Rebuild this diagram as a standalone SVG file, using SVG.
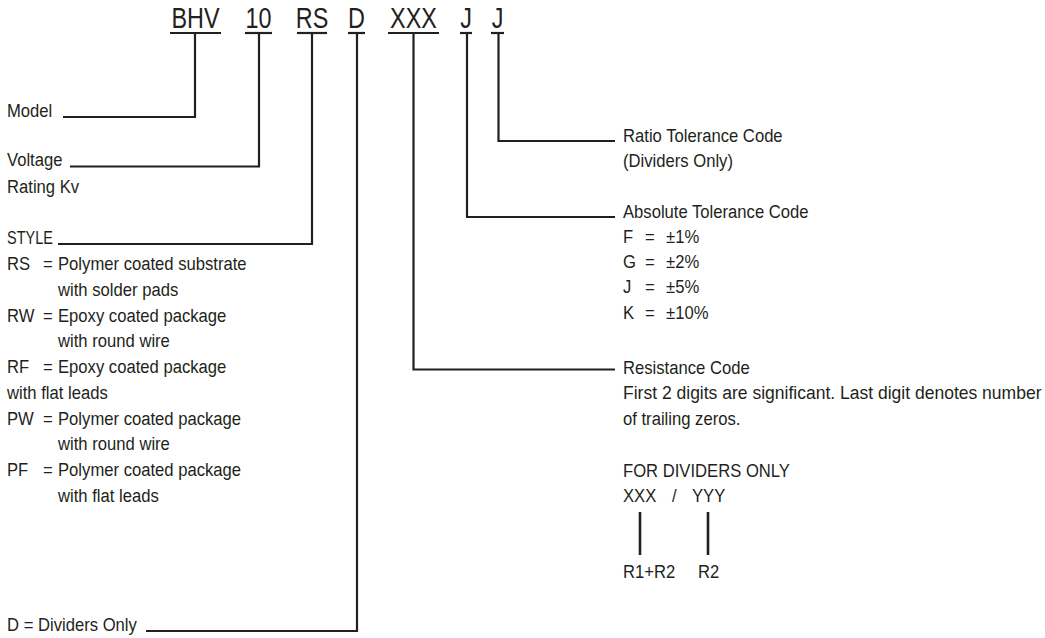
<svg xmlns="http://www.w3.org/2000/svg" width="1045" height="638" viewBox="0 0 1045 638">
<style>
.t{font-family:"Liberation Sans",Arial,sans-serif;font-size:18.5px;fill:#231f20}
.c{font-family:"Liberation Sans",Arial,sans-serif;font-size:30px;fill:#231f20;text-anchor:middle}
.ln{fill:none;stroke:#231f20;stroke-width:2.2;stroke-linecap:butt;stroke-linejoin:miter}
.bar{stroke:#231f20;stroke-width:2.6}
</style>
<rect width="1045" height="638" fill="#fff"/>
<g id="code-bhv"><text class="c" transform="translate(195.5,28) scale(0.78,1)">BHV</text><path class="ln" d="M170,33H221"/></g>
<g id="code-10"><text class="c" transform="translate(258.5,28) scale(0.78,1)">10</text><path class="ln" d="M245,33H272"/></g>
<g id="code-rs"><text class="c" transform="translate(312,28) scale(0.78,1)">RS</text><path class="ln" d="M297,33H327"/></g>
<g id="code-d"><text class="c" transform="translate(356.5,28) scale(0.78,1)">D</text><path class="ln" d="M348,33H365"/></g>
<g id="code-xxx"><text class="c" transform="translate(413.5,28) scale(0.78,1)">XXX</text><path class="ln" d="M388,33H439"/></g>
<g id="code-j1"><text class="c" transform="translate(466,28) scale(0.78,1)">J</text><path class="ln" d="M460,33H472"/></g>
<g id="code-j2"><text class="c" transform="translate(497.5,28) scale(0.78,1)">J</text><path class="ln" d="M491,33H504"/></g>

<g id="connectors">
<path class="ln" d="M195,33V117H63"/>
<path class="ln" d="M259,33V166.5H70"/>
<path class="ln" d="M312,33V244H58"/>
<path class="ln" d="M357,33V631H146"/>
<path class="ln" d="M413.5,33V369.5H615"/>
<path class="ln" d="M467,33V217H615"/>
<path class="ln" d="M498.5,33V141H615"/>
</g>

<g id="label-model"><text class="t" transform="translate(7,117) scale(0.9,1)">Model</text></g>
<g id="label-voltage">
<text class="t" transform="translate(7,166) scale(0.9,1)">Voltage</text>
<text class="t" transform="translate(7,193) scale(0.9,1)">Rating Kv</text>
</g>
<g id="label-style">
<text class="t" transform="translate(7,244) scale(0.9,1)" textLength="51" lengthAdjust="spacingAndGlyphs">STYLE</text>
<text class="t" transform="translate(7,270) scale(0.9,1)">RS<tspan x="40">=</tspan><tspan x="56.7">Polymer coated substrate</tspan></text>
<text class="t" transform="translate(7,296) scale(0.9,1)"><tspan x="56.7">with solder pads</tspan></text>
<text class="t" transform="translate(7,322) scale(0.9,1)">RW<tspan x="40">=</tspan><tspan x="56.7">Epoxy coated package</tspan></text>
<text class="t" transform="translate(7,347) scale(0.9,1)"><tspan x="56.7">with round wire</tspan></text>
<text class="t" transform="translate(7,373) scale(0.9,1)">RF<tspan x="40">=</tspan><tspan x="56.7">Epoxy coated package</tspan></text>
<text class="t" transform="translate(7,399) scale(0.9,1)">with flat leads</text>
<text class="t" transform="translate(7,425) scale(0.9,1)">PW<tspan x="40">=</tspan><tspan x="56.7">Polymer coated package</tspan></text>
<text class="t" transform="translate(7,450) scale(0.9,1)"><tspan x="56.7">with round wire</tspan></text>
<text class="t" transform="translate(7,476) scale(0.9,1)">PF<tspan x="40">=</tspan><tspan x="56.7">Polymer coated package</tspan></text>
<text class="t" transform="translate(7,502) scale(0.9,1)"><tspan x="56.7">with flat leads</tspan></text>
</g>
<g id="label-dividers"><text class="t" transform="translate(7,631) scale(0.9,1)">D = Dividers Only</text></g>

<g id="label-ratio">
<text class="t" transform="translate(623,142) scale(0.9,1)">Ratio Tolerance Code</text>
<text class="t" transform="translate(623,167) scale(0.9,1)">(Dividers Only)</text>
</g>
<g id="label-absolute">
<text class="t" transform="translate(623,218) scale(0.9,1)">Absolute Tolerance Code</text>
<text class="t" transform="translate(623,243) scale(0.9,1)">F<tspan x="24.4">=</tspan><tspan x="47.8">±1%</tspan></text>
<text class="t" transform="translate(623,268) scale(0.9,1)">G<tspan x="24.4">=</tspan><tspan x="47.8">±2%</tspan></text>
<text class="t" transform="translate(623,293) scale(0.9,1)">J<tspan x="24.4">=</tspan><tspan x="47.8">±5%</tspan></text>
<text class="t" transform="translate(623,319) scale(0.9,1)">K<tspan x="24.4">=</tspan><tspan x="47.8">±10%</tspan></text>
</g>
<g id="label-resistance">
<text class="t" transform="translate(623,374) scale(0.9,1)">Resistance Code</text>
<text class="t" transform="translate(623,399) scale(0.9,1)" textLength="465" lengthAdjust="spacingAndGlyphs">First 2 digits are significant. Last digit denotes number</text>
<text class="t" transform="translate(623,425) scale(0.9,1)">of trailing zeros.</text>
<text class="t" transform="translate(623,477) scale(0.9,1)">FOR DIVIDERS ONLY</text>
<text class="t" transform="translate(623,502) scale(0.9,1)">XXX<tspan x="54.4">/</tspan><tspan x="76.7">YYY</tspan></text>
<path class="bar" d="M640,512V555M708,512V555"/>
<text class="t" transform="translate(623,578) scale(0.9,1)">R1+R2<tspan x="83.3">R2</tspan></text>
</g>
</svg>
